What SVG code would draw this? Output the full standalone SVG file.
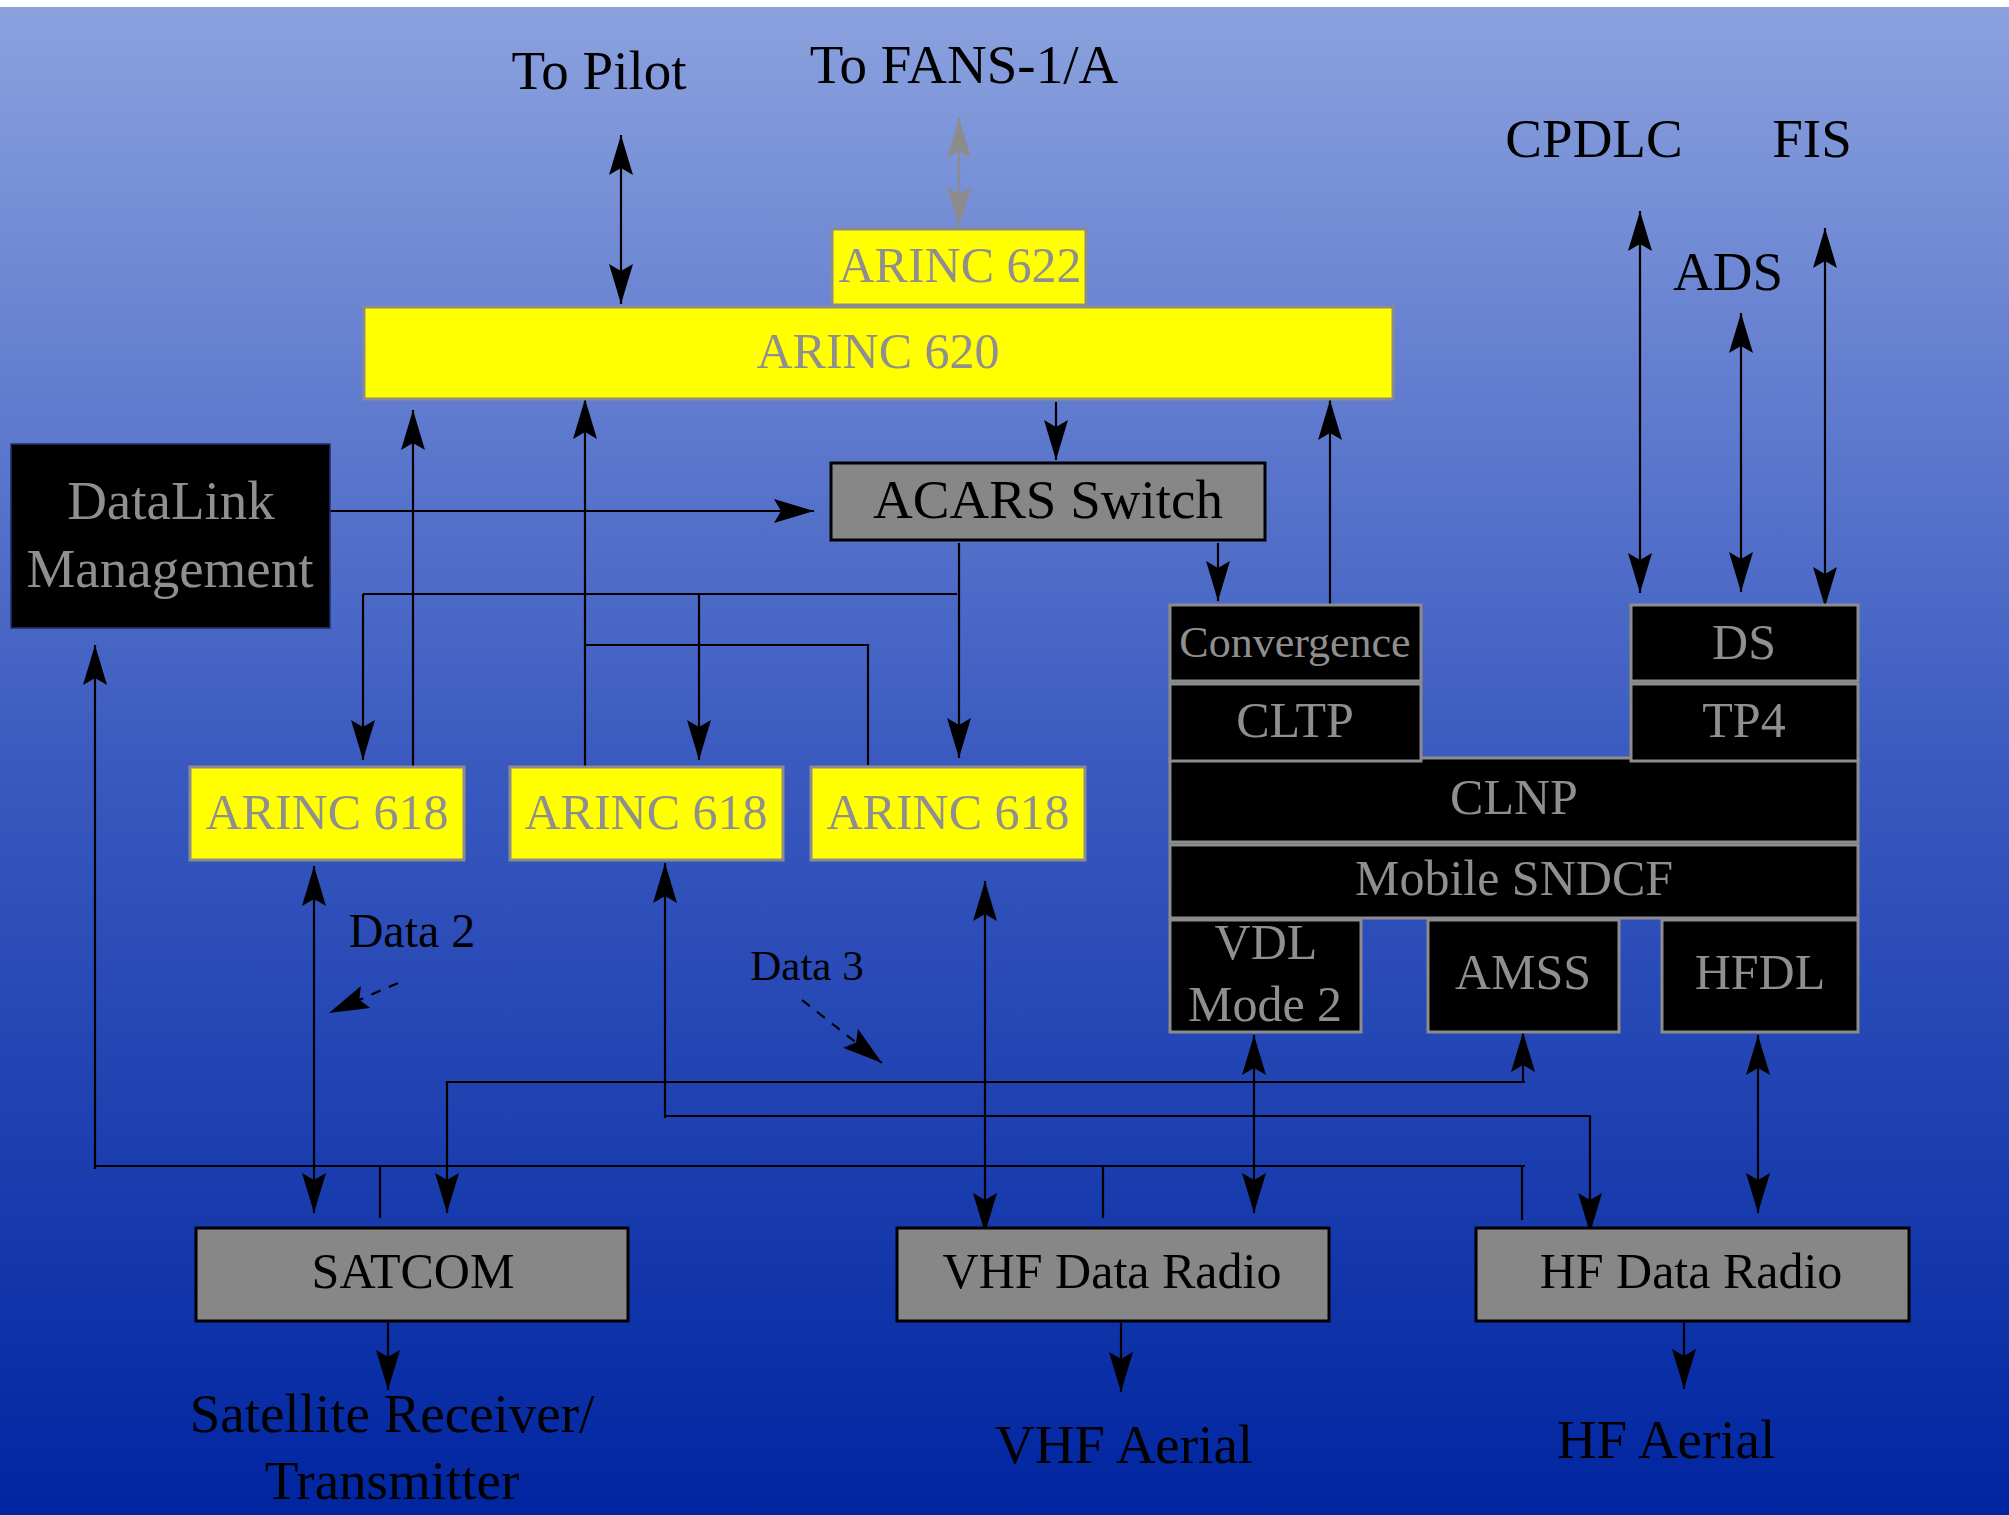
<svg xmlns="http://www.w3.org/2000/svg" width="2009" height="1515" viewBox="0 0 2009 1515">
<defs>
<linearGradient id="bg" x1="0" y1="0" x2="0" y2="1">
<stop offset="0" stop-color="#8ba1de"/>
<stop offset="0.5" stop-color="#3a5ac0"/>
<stop offset="1" stop-color="#0025a0"/>
</linearGradient>
<marker id="ah" viewBox="0 0 40 24" refX="40" refY="12" markerWidth="40" markerHeight="24" markerUnits="userSpaceOnUse" orient="auto-start-reverse">
<path d="M0,0 L40,12 L0,24 L7,12 Z" fill="#000"/>
</marker>
<marker id="ahg" viewBox="0 0 40 24" refX="40" refY="12" markerWidth="40" markerHeight="24" markerUnits="userSpaceOnUse" orient="auto-start-reverse">
<path d="M0,0 L40,12 L0,24 L7,12 Z" fill="#8c8c8c"/>
</marker>
<style>
text{font-family:"Liberation Serif","Times New Roman",serif;text-anchor:middle}
.yel{fill:#ffff00;stroke:#8c8c8c;stroke-width:3}
.blk{fill:#000;stroke:#8c8c8c;stroke-width:3}
.gry{fill:#878787;stroke:#000;stroke-width:3}
.tg{fill:#8f8f8f}
.tk{fill:#000}
.c{fill:none;stroke:#000;stroke-width:2.2}
.a2{marker-start:url(#ah);marker-end:url(#ah)}
.a1{marker-end:url(#ah)}
.d{stroke-dasharray:10 9}
</style>
</defs>
<rect x="0" y="0" width="2009" height="1515" fill="#fff"/>
<rect x="0" y="7" width="2009" height="1508" fill="url(#bg)"/>

<g id="labels-top" font-size="55">
<text class="tk" x="599" y="89">To Pilot</text>
<text class="tk" x="964" y="83">To FANS-1/A</text>
<text class="tk" x="1594" y="157">CPDLC</text>
<text class="tk" x="1812" y="157">FIS</text>
<text class="tk" x="1728" y="290">ADS</text>
</g>

<g id="connectors">
<line class="c a2" x1="621" y1="135" x2="621" y2="304"/>
<line x1="959" y1="118" x2="959" y2="227" stroke="#8c8c8c" stroke-width="2.2" marker-start="url(#ahg)" marker-end="url(#ahg)"/>
<line class="c a2" x1="1640" y1="211" x2="1640" y2="593"/>
<line class="c a2" x1="1741" y1="313" x2="1741" y2="592"/>
<line class="c a2" x1="1825" y1="228" x2="1825" y2="607"/>
<line class="c a1" x1="1056" y1="402" x2="1056" y2="460"/>
<line class="c a1" x1="330" y1="511" x2="814" y2="511"/>
<line class="c a1" x1="1218" y1="543" x2="1218" y2="601"/>
<line class="c a1" x1="1330" y1="605" x2="1330" y2="400"/>
<line class="c" x1="363" y1="594" x2="957" y2="594"/>
<line class="c a1" x1="363" y1="594" x2="363" y2="760"/>
<line class="c a1" x1="699" y1="594" x2="699" y2="760"/>
<line class="c a1" x1="959" y1="543" x2="959" y2="758"/>
<line class="c a1" x1="413" y1="767" x2="413" y2="410"/>
<line class="c a1" x1="585" y1="767" x2="585" y2="399"/>
<polyline class="c" points="585,645 868,645 868,765"/>
<line class="c a2" x1="314" y1="866" x2="314" y2="1213"/>
<line class="c a1" x1="665" y1="1118" x2="665" y2="863"/>
<polyline class="c a1" points="665,1116 1590,1116 1590,1233"/>
<line class="c a2" x1="985" y1="881" x2="985" y2="1233"/>
<line class="c a1" x1="95" y1="1169" x2="95" y2="645"/>
<line class="c" x1="95" y1="1166" x2="1525" y2="1166"/>
<line class="c" x1="380" y1="1166" x2="380" y2="1218"/>
<line class="c" x1="1103" y1="1166" x2="1103" y2="1218"/>
<line class="c" x1="1522" y1="1166" x2="1522" y2="1220"/>
<line class="c a1" x1="1523" y1="1082" x2="1523" y2="1032"/>
<polyline class="c a1" points="1525,1082 447,1082 447,1213"/>
<line class="c a2" x1="1254" y1="1035" x2="1254" y2="1213"/>
<line class="c a2" x1="1758" y1="1035" x2="1758" y2="1213"/>
<line class="c a1" x1="388" y1="1323" x2="388" y2="1390"/>
<line class="c a1" x1="1121" y1="1323" x2="1121" y2="1392"/>
<line class="c a1" x1="1684" y1="1323" x2="1684" y2="1389"/>
<line class="c d a1" x1="398" y1="983" x2="329" y2="1013"/>
<line class="c d a1" x1="802" y1="1000" x2="882" y2="1063"/>
</g>

<g id="arinc622"><rect class="yel" x="832" y="229" width="254" height="76"/><text class="tg" x="960" y="282" font-size="50">ARINC 622</text></g>
<g id="arinc620"><rect class="yel" x="364" y="307" width="1029" height="92"/><text class="tg" x="878" y="368" font-size="50">ARINC 620</text></g>
<g id="acars"><rect class="gry" x="831" y="463" width="434" height="77"/><text class="tk" x="1048" y="518" font-size="55">ACARS Switch</text></g>
<g id="datalink"><rect x="11" y="444" width="319" height="184" fill="#000" stroke="#23306a" stroke-width="1.5"/><text class="tg" x="171" y="519" font-size="55">DataLink</text><text class="tg" x="170" y="587" font-size="55">Management</text></g>
<g id="arinc618a"><rect class="yel" x="190" y="767" width="274" height="93"/><text class="tg" x="327" y="829" font-size="50">ARINC 618</text></g>
<g id="arinc618b"><rect class="yel" x="510" y="767" width="273" height="93"/><text class="tg" x="646" y="829" font-size="50">ARINC 618</text></g>
<g id="arinc618c"><rect class="yel" x="811" y="767" width="274" height="93"/><text class="tg" x="948" y="829" font-size="50">ARINC 618</text></g>

<g id="clnp"><rect class="blk" x="1170" y="758" width="688" height="84"/><text class="tg" x="1514" y="814" font-size="50">CLNP</text></g>
<g id="convergence"><rect class="blk" x="1170" y="605" width="251" height="76"/><text class="tg" x="1295" y="657" font-size="44">Convergence</text></g>
<g id="cltp"><rect class="blk" x="1170" y="684" width="251" height="77"/><text class="tg" x="1295" y="737" font-size="50">CLTP</text></g>
<g id="ds"><rect class="blk" x="1631" y="605" width="227" height="76"/><text class="tg" x="1744" y="659" font-size="50">DS</text></g>
<g id="tp4"><rect class="blk" x="1631" y="684" width="227" height="77"/><text class="tg" x="1744" y="737" font-size="50">TP4</text></g>
<g id="sndcf"><rect class="blk" x="1170" y="845" width="688" height="73"/><text class="tg" x="1514" y="895" font-size="50">Mobile SNDCF</text></g>
<g id="vdl"><rect class="blk" x="1170" y="920" width="191" height="112"/><text class="tg" x="1266" y="959" font-size="50">VDL</text><text class="tg" x="1265" y="1021" font-size="50">Mode 2</text></g>
<g id="amss"><rect class="blk" x="1428" y="920" width="191" height="112"/><text class="tg" x="1523" y="989" font-size="50">AMSS</text></g>
<g id="hfdl"><rect class="blk" x="1662" y="920" width="196" height="112"/><text class="tg" x="1760" y="989" font-size="50">HFDL</text></g>

<g id="satcom"><rect class="gry" x="196" y="1228" width="432" height="93"/><text class="tk" x="413" y="1288" font-size="50">SATCOM</text></g>
<g id="vhfradio"><rect class="gry" x="897" y="1228" width="432" height="93"/><text class="tk" x="1112" y="1288" font-size="50">VHF Data Radio</text></g>
<g id="hfradio"><rect class="gry" x="1476" y="1228" width="433" height="93"/><text class="tk" x="1691" y="1288" font-size="50">HF Data Radio</text></g>

<g id="labels-other">
<text class="tk" x="412" y="947" font-size="48">Data 2</text>
<text class="tk" x="807" y="980" font-size="43">Data 3</text>
<text class="tk" x="392" y="1432" font-size="55">Satellite Receiver/</text>
<text class="tk" x="392" y="1499" font-size="55">Transmitter</text>
<text class="tk" x="1124" y="1463" font-size="55">VHF Aerial</text>
<text class="tk" x="1666" y="1458" font-size="55">HF Aerial</text>
</g>
</svg>
